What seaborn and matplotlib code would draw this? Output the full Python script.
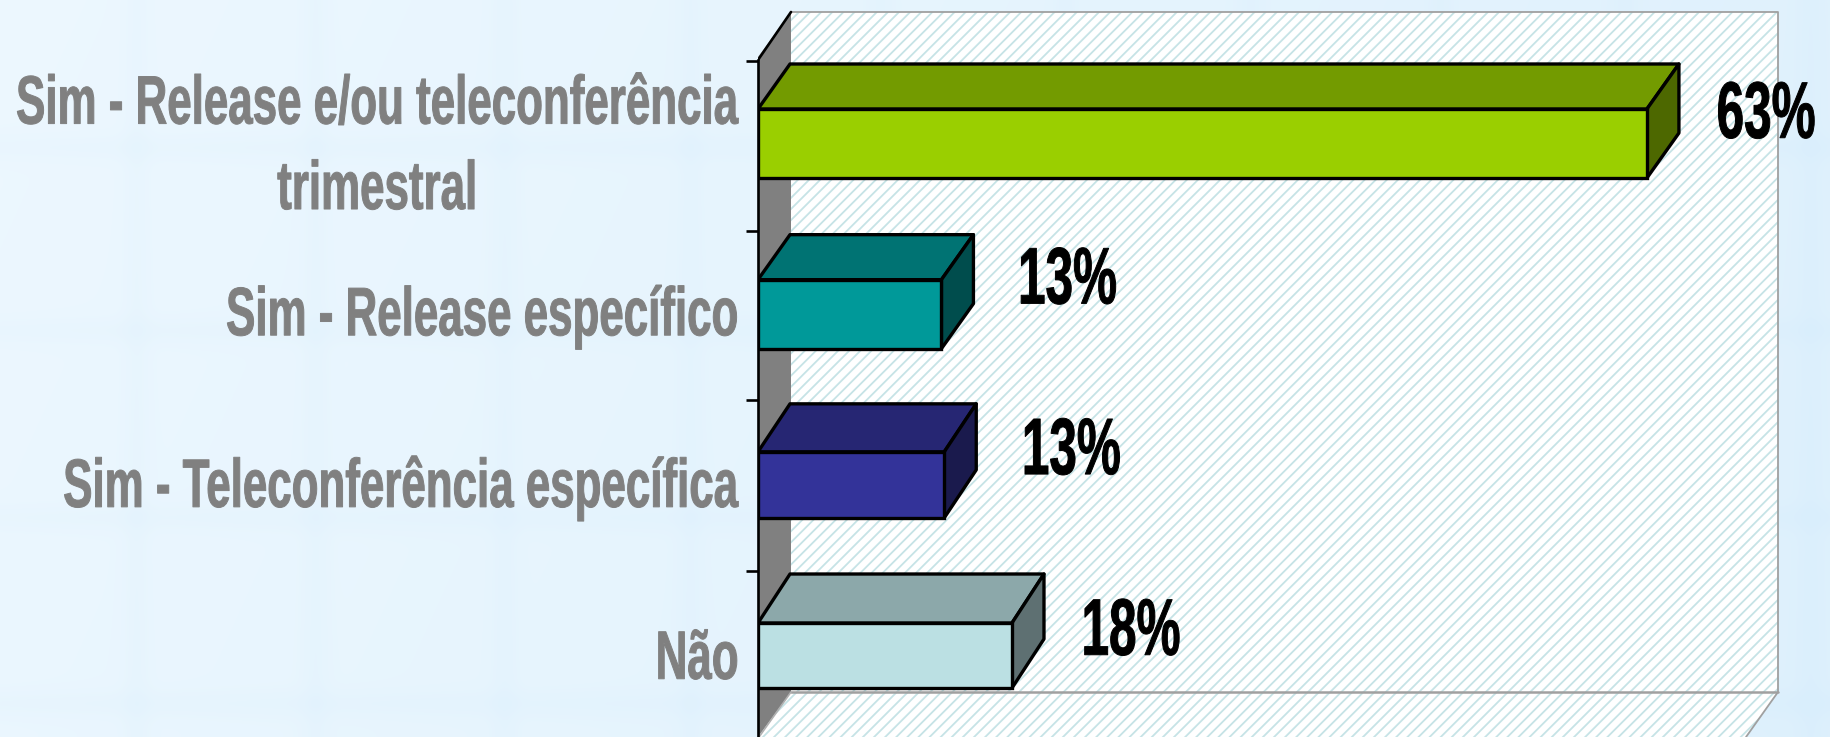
"""Horizontal 3D-look bar chart, Sim/Nao survey"""
import numpy as np
import matplotlib
matplotlib.use('Agg')
import matplotlib.pyplot as plt
from matplotlib.patches import Polygon
from matplotlib.patheffects import AbstractPathEffect
from matplotlib.transforms import Affine2D
import seaborn as sns

categories = ['Sim - Release e/ou teleconferência\ntrimestral', 'Sim - Release específico',
              'Sim - Teleconferência específica', 'Não']
values = [63, 13, 13.2, 18]
front_colors = ['#9ACF00', '#009999', '#333399', '#BBE0E3']
top_colors = ['#739B00', '#007373', '#262673', '#8CA8AA']
side_colors = ['#4D6800', '#004D4D', '#1A1A4D', '#5E7072']

sns.set_theme(style="white")
plt.rcParams['font.family'] = ['Liberation Sans']
plt.rcParams['hatch.linewidth'] = 1.3

W, H = 1831, 737
X0, PX_PCT = 758, 14.11      # front plane origin, pixels per percent
Y0, PX_CAT = 143.5, 170.67   # first bar centre, pixels per category


def ux(px):
    return (px - X0) / PX_PCT


def uy(px):
    return (px - Y0) / PX_CAT


class Stretch(AbstractPathEffect):
    # the source text is tall, narrow and heavy: stretch glyphs about a centre line and thicken them
    def __init__(self, sy, anchor, weight=0.7):
        super().__init__()
        self.sy = sy
        self.anchor = anchor
        self.weight = weight

    def draw_path(self, renderer, gc, tpath, affine, rgbFace=None):
        tr = affine + Affine2D().translate(0, -self.anchor).scale(1, self.sy).translate(0, self.anchor)
        gc0 = renderer.new_gc()
        gc0.copy_properties(gc)
        gc0.set_linewidth(self.weight)
        renderer.draw_path(gc0, tpath, tr, rgbFace)
        gc0.restore()


fig = plt.figure(figsize=(W / 100, H / 100), dpi=100)

# ============================================================
# Background: pale blue wash with soft plaid bands
# ============================================================
bg = fig.add_axes([0, 0, 1, 1], zorder=-1)
xx, yy = np.meshgrid(np.arange(W), np.arange(H))
wash = 0.15 + 0.55 * xx / W + 0.1 * yy / H
for c in [136, 315, 504, 690, 880, 1065, 1250, 1440, 1625, 1810]:
    wash += 0.12 * np.exp(-((xx - c) / 14) ** 2)
for c in [147, 330, 517, 703]:
    wash += 0.12 * np.exp(-((yy - c) / 14) ** 2)
cm = matplotlib.colors.LinearSegmentedColormap.from_list('wash', ['#F0F9FF', '#D9EEFC'])
bg.imshow(wash, cmap=cm, vmin=0, vmax=1, aspect='auto')
bg.axis('off')

# ============================================================
# Chart axes cover the front plane through to the right edge
# ============================================================
ax = fig.add_axes([X0 / W, 0, 1 - X0 / W, 1])
ax.patch.set_alpha(0)

sns.barplot(y=categories, x=values, hue=categories, palette=front_colors, legend=False,
            width=0.4, saturation=1, edgecolor='black', linewidth=2.4, ax=ax, zorder=5)
ax.set_xlim(0, ux(W))
ax.set_ylim(uy(H), uy(0))
ax.set_xlabel('')
ax.set_ylabel('')
ax.xaxis.set_visible(False)

# back wall, floor and side wall
wall = dict(facecolor='white', edgecolor='#C6E3E6', hatch='///', linewidth=0, zorder=1)
ax.add_patch(Polygon([(ux(791), uy(12)), (ux(1778), uy(12)), (ux(1778), uy(692)), (ux(791), uy(692))], **wall))
ax.add_patch(Polygon([(ux(791), uy(692)), (ux(1778), uy(692)), (ux(1746), uy(737)), (ux(759), uy(737))], **wall))
ax.plot([ux(791), ux(1778), ux(1778), ux(1746)], [uy(12), uy(12), uy(692), uy(737)], color='#A0A0A0', lw=1.3, zorder=2)
ax.plot([ux(791), ux(1778)], [uy(692), uy(692)], color='#A0A0A0', lw=1.8, zorder=2)
ax.add_patch(Polygon([(0, uy(57)), (ux(791), uy(12)), (ux(791), uy(692)), (0, uy(737))],
                     facecolor='#808080', edgecolor='none', zorder=2))
ax.plot([0, ux(791)], [uy(60), uy(12)], color='black', lw=1.9, zorder=3)
ax.plot([ux(759), ux(791)], [uy(737), uy(692)], color='#B0B0B0', lw=1.2, zorder=3)

# bars: perspective makes the lower ones a little thinner and deeper
bar_heights = [69, 69, 66, 65]
bar_rise = [45, 45, 48, 49]
depth_x = 32 / PX_PCT
label_dx = [119, 126, 127, 119]
label_dy = [-26, -31, -31, -21]
tick_anchor = [-23, -7, -8, -3]

for i, cont in enumerate(ax.containers):
    bar = cont[0]
    mid = bar.get_y() + bar.get_height() / 2
    bar.set_height(bar_heights[i] / PX_CAT)
    bar.set_y(mid - bar.get_height() / 2)
    x1 = bar.get_width()
    ytop, ybot = bar.get_y(), bar.get_y() + bar.get_height()
    rise = bar_rise[i] / PX_CAT
    ax.add_patch(Polygon([(0, ytop), (depth_x, ytop - rise), (x1 + depth_x, ytop - rise), (x1, ytop)],
                         facecolor=top_colors[i], edgecolor='black', linewidth=2.4, joinstyle='round', zorder=4))
    ax.add_patch(Polygon([(x1, ytop), (x1 + depth_x, ytop - rise), (x1 + depth_x, ybot - rise), (x1, ybot)],
                         facecolor=side_colors[i], edgecolor='black', linewidth=2.4, joinstyle='round', zorder=4))
    anchor = ax.transData.transform((x1, mid))[1] - label_dy[i]
    ax.annotate(f'{values[i]:.0f}%', (x1, mid), xytext=(label_dx[i], -label_dy[i]), textcoords='offset pixels',
                ha='center', va='center', fontsize=35.6, fontweight='bold', color='black', zorder=6,
                path_effects=[Stretch(1.62, anchor)])

# axis line and ticks
for s in ['top', 'right', 'bottom']:
    ax.spines[s].set_visible(False)
ax.spines['left'].set_color('black')
ax.spines['left'].set_linewidth(1.9)
ax.spines['left'].set_zorder(3)
ax.spines['left'].set_bounds(uy(737), uy(60))
ax.set_yticks(range(len(categories)))
ax.set_yticks([uy(p) for p in (61, 231, 400, 571)], minor=True)
ax.tick_params(axis='y', which='major', length=0, pad=14)
ax.tick_params(axis='y', which='minor', length=8.6, width=1.9, color='black', left=True)
for i, t in enumerate(ax.get_yticklabels()):
    t.set_fontsize(31.6)
    t.set_fontweight('bold')
    t.set_color('#808080')
    t.set_multialignment('center')
    t.set_linespacing(1.43)
    t.set_path_effects([Stretch(1.56, ax.transData.transform((0, i))[1] + tick_anchor[i])])

fig.savefig('out.png', dpi=100)
plt.close()
